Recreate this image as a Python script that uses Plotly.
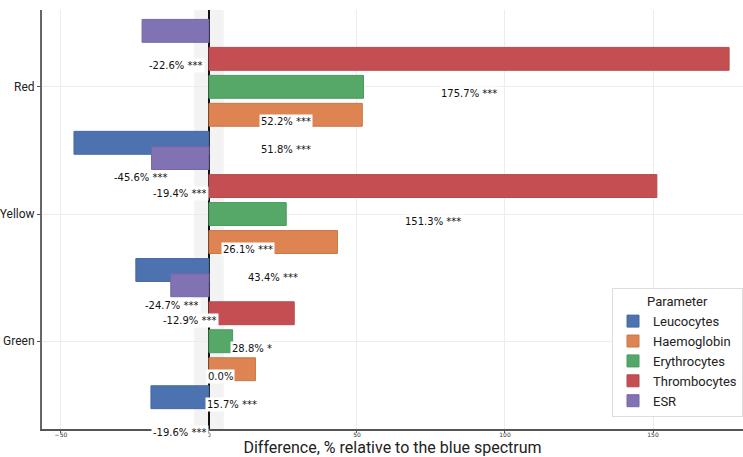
import plotly.graph_objects as go

groups = ["Red", "Yellow", "Green"]
group_pos = [2, 1, 0]
params = ["Leucocytes", "Haemoglobin", "Erythrocytes", "Thrombocytes", "ESR"]
colors = ["#4C72B0", "#DD8452", "#55A868", "#C44E52", "#8172B3"]
edges = ["#4868a0", "#c87848", "#4c9a5c", "#b44a4e", "#7568a6"]

# values per parameter, in order Red, Yellow, Green
leucocytes = [-45.6, -24.7, -19.6]
haemoglobin = [51.8, 43.4, 15.7]
erythrocytes = [52.2, 26.1, 8.0]
thrombocytes = [175.7, 151.3, 28.8]
esr = [-22.6, -19.4, -12.9]

leucocytes_lbl = ["-45.6% ***", "-24.7% ***", "-19.6% ***"]
haemoglobin_lbl = ["51.8% ***", "43.4% ***", "15.7% ***"]
erythrocytes_lbl = ["52.2% ***", "26.1% ***", "0.0%"]
thrombocytes_lbl = ["175.7% ***", "151.3% ***", "28.8% *"]
esr_lbl = ["-22.6% ***", "-19.4% ***", "-12.9% ***"]

series = [leucocytes, haemoglobin, erythrocytes, thrombocytes, esr]
labels = [leucocytes_lbl, haemoglobin_lbl, erythrocytes_lbl, thrombocytes_lbl, esr_lbl]

step = 0.22
bar_w = 0.18

fig = go.Figure()
annotations = []
for i, (name, vals, lbls) in enumerate(zip(params, series, labels)):
    ys = [g + (i - 2) * step for g in group_pos]
    fig.add_trace(go.Bar(
        x=vals, y=ys, orientation="h", name=name, width=bar_w,
        marker=dict(color=colors[i], line=dict(color=edges[i], width=1)),
    ))
    for v, y, t in zip(vals, ys, lbls):
        annotations.append(dict(
            x=v / 2, y=y, yshift=-35, xref="x", yref="y", text=t, showarrow=False,
            bgcolor="white", borderpad=1,
            font=dict(family="DejaVu Sans", size=10, color="#111"),
        ))

fig.update_layout(
    width=743, height=457,
    margin=dict(l=42, r=0, t=10, b=28),
    plot_bgcolor="white", paper_bgcolor="white",
    barmode="overlay",
    annotations=annotations,
    shapes=[dict(type="rect", xref="x", yref="paper", x0=-5, x1=5, y0=0, y1=1,
                 fillcolor="#f3f3f3", line=dict(width=0), layer="below")],
    legend=dict(
        title=dict(text="Parameter", side="top center", font=dict(family="Roboto", size=13, color="#222")),
        x=1.0, y=0.028, xanchor="right", yanchor="bottom",
        bgcolor="white", bordercolor="#dddddd", borderwidth=1,
        font=dict(family="Roboto", size=13, color="#222"),
        itemwidth=30, tracegroupgap=0,
    ),
    xaxis=dict(
        range=[-56.4, 180.4],
        tickvals=[-50, 0, 50, 100, 150],
        tickfont=dict(family="DejaVu Sans", size=6, color="#333"),
        ticks="outside", ticklen=2, tickcolor="#555", ticklabelstandoff=-3,
        showgrid=True, gridcolor="#ececec", gridwidth=1,
        zeroline=True, zerolinecolor="#111", zerolinewidth=1.5,
        showline=True, linecolor="#555", linewidth=1.5,
        title=dict(text="Difference, % relative to the blue spectrum",
                   font=dict(family="Roboto", size=16, color="#222"), standoff=0),
    ),
    yaxis=dict(
        range=[-0.69, 2.604],
        tickvals=group_pos, ticktext=groups,
        tickfont=dict(family="Roboto", size=12, color="#222"),
        ticks="outside", ticklen=3, tickcolor="#555",
        showgrid=True, gridcolor="#ececec", gridwidth=1,
        zeroline=False,
        showline=True, linecolor="#666", linewidth=2,
    ),
)

fig.write_html("out.html")
